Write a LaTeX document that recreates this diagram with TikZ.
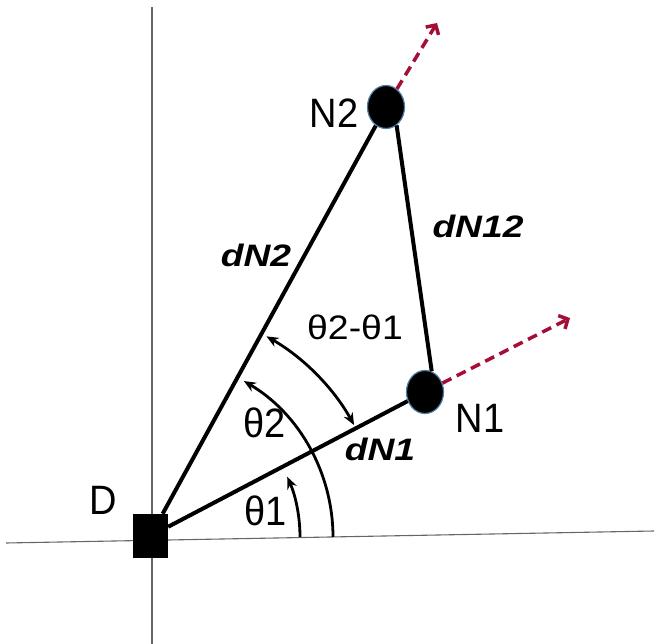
\documentclass[tikz,border=0pt]{standalone}
\usepackage{graphicx}
\usepackage{fontspec}
\setmainfont{Liberation Sans}
\usetikzlibrary{arrows.meta,shapes.geometric}
\definecolor{vred}{RGB}{165,15,55}
\definecolor{rimblue}{RGB}{80,125,165}
\newcommand\regtxt[1]{\scalebox{1}[1.08]{#1}}
\newcommand\boldtxt[1]{\scalebox{1.2}[1]{\bfseries\itshape #1}}
\begin{document}
\begin{tikzpicture}[x=1pt,y=-1pt,
  axisline/.style={line width=1.1pt, black!60},
  edge/.style={line width=4pt, black},
  angarc/.style={line width=2.8pt, black, >={Stealth[length=12pt,width=10pt]}},
  dirarrow/.style={line width=3.5pt, vred, dash pattern=on 10pt off 6pt,
    -{Straight Barb[length=7pt,width=15pt,line width=3.5pt]}},
  dot/.style={ellipse, fill=black, draw=rimblue, line width=1.2pt,
    minimum width=37pt, minimum height=43pt, inner sep=0pt},
  sqbox/.style={rectangle, fill=black, minimum width=35pt, minimum height=44pt, inner sep=0pt},
  lab/.style={inner sep=0pt, font=\fontsize{38}{42}\selectfont},
  smlab/.style={inner sep=0pt, font=\fontsize{34}{38}\selectfont},
  blab/.style={inner sep=0pt, font=\fontsize{31}{36}\selectfont}
]
\useasboundingbox (0,0) rectangle (654,644);
% axes
\coordinate (ax1) at (152,7);
\coordinate (ax2) at (152,644);
\coordinate (ah1) at (6,543);
\coordinate (ah2) at (654,531);
\draw[axisline] (ax1) -- (ax2);
\draw[axisline] (ah1) -- (ah2);
\coordinate (C) at (152,537);
% nodes
\node[sqbox] (D) at (150.5,536) {};
\node[dot] (N2) at (386,107) {};
\node[dot] (N1) at (425,392) {};
\coordinate (t1) at (570,318);
\coordinate (t2) at (437,23);
% edges
\draw[edge] (D) -- (N2);
\draw[edge] (D) -- (N1);
\draw[edge] (N2.-60) -- (N1.72);
\draw[dirarrow] (N1) -- (t1);
\draw[dirarrow] (N2) -- (t2);
% angle arcs
\draw[angarc, ->] ([shift={(0:148pt)}]C) arc[start angle=0, end angle=24, radius=148pt];
\draw[angarc, ->] ([shift={(0:181pt)}]C) arc[start angle=0, end angle=59.5, radius=181pt];
\draw[angarc, <->] ([shift={(29:231pt)}]C) arc[start angle=29, end angle=60.3, radius=231pt];
% labels
\node[lab] (lD) at (103,500) {\regtxt{D}};
\node[lab] (lN2) at (334,113) {\regtxt{N2}};
\node[lab] (lN1) at (480,418) {\regtxt{N1}};
\node[lab] (lt2) at (265,423) {\regtxt{θ2}};
\node[lab] (lt1) at (266,511) {\regtxt{θ1}};
\node[smlab] (lt21) at (355,327) {\scalebox{1.1}[1]{θ2-θ1}};
\node[blab] (ldN2) at (256,255) {\boldtxt{dN2}};
\node[blab] (ldN1) at (380,449) {\boldtxt{dN1}};
\node[blab] (ldN12) at (478,226) {\boldtxt{dN12}};
\end{tikzpicture}
\end{document}
